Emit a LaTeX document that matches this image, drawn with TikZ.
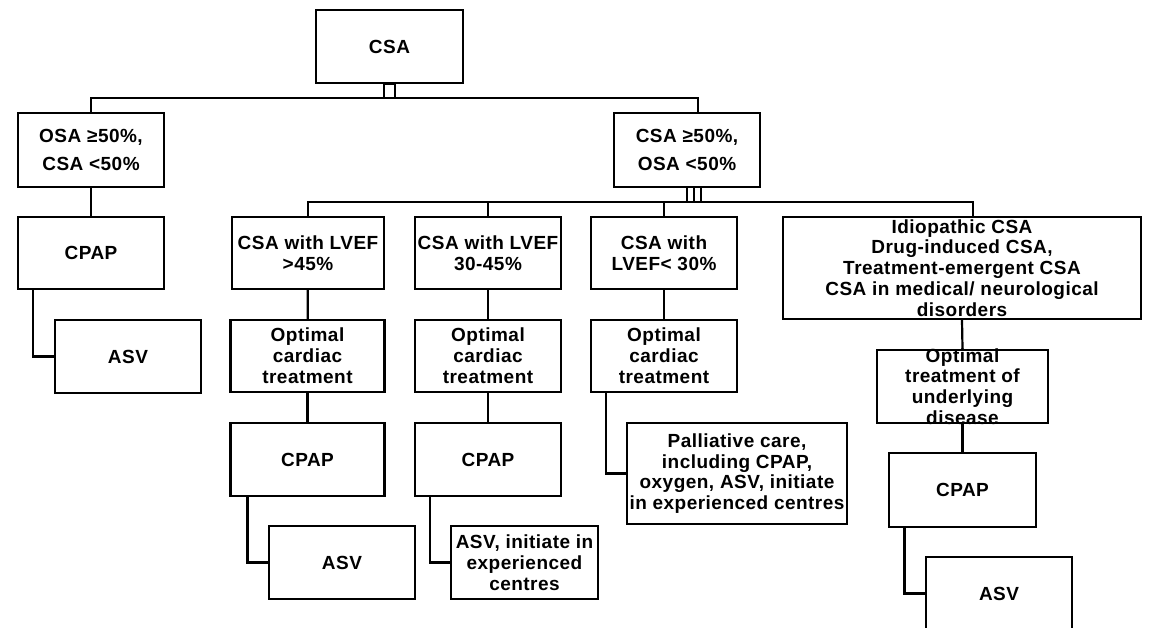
\documentclass[tikz,border=0pt]{standalone}
\usepackage{fontspec}
\setmainfont{Liberation Sans}[LetterSpace=2.5]
\usepackage{tikz}
\usetikzlibrary{positioning}

\begin{document}
\begin{tikzpicture}[x=1pt,y=-1pt,
  box/.style={draw=black,line width=2.2pt,fill=white,inner sep=0pt,align=center,
    font=\bfseries\fontsize{19}{20.8}\selectfont},
  link/.style={line width=2.2pt,black}]
\useasboundingbox (0,0) rectangle (1150,627);
% top level
\node[box,minimum width=147,minimum height=73] (csa) at (389.5,46.5) {CSA};
\node[box,minimum width=146,minimum height=74] (osa) at (91,150) {OSA ≥50\%,\\[7pt]CSA <50\%};
\node[box,minimum width=146,minimum height=74] (csahi) at (687,150) {CSA ≥50\%,\\[7pt]OSA <50\%};
% left branch
\node[box,minimum width=146,minimum height=72] (cpapa) at (91,253) {CPAP};
\node[box,minimum width=146,minimum height=73] (asva) at (128,356.5) {ASV};
% second level
\node[box,minimum width=152,minimum height=72] (lvefa) at (308,253) {CSA with LVEF\\>45\%};
\node[box,minimum width=146,minimum height=72] (lvefb) at (488,253) {CSA with LVEF\\30-45\%};
\node[box,minimum width=146,minimum height=72] (lvefc) at (664,253) {CSA with\\LVEF< 30\%};
\node[box,minimum width=358,minimum height=102] (idio) at (962,268) {Idiopathic CSA\\Drug-induced CSA,\\Treatment-emergent CSA\\CSA in medical/ neurological\\disorders};
% treatment
\node[box,minimum width=154,minimum height=72] (opta) at (307.5,356) {Optimal\\cardiac\\treatment};
\node[box,minimum width=146,minimum height=72] (optb) at (488,356) {Optimal\\cardiac\\treatment};
\node[box,minimum width=146,minimum height=72] (optc) at (664,356) {Optimal\\cardiac\\treatment};
\node[box,minimum width=171,minimum height=73] (optd) at (962.5,386.5) {\parbox[c][50pt][c]{171pt}{\centering Optimal\\treatment of\\underlying\\disease}};
% CPAP and ASV
\node[box,minimum width=154,minimum height=73] (cpapb) at (307.5,459.5) {CPAP};
\node[box,minimum width=146,minimum height=73] (cpapc) at (488,459.5) {CPAP};
\node[box,minimum width=147,minimum height=74] (cpapd) at (962.5,490) {CPAP};
\node[box,minimum width=146,minimum height=73] (asvb) at (342,562.5) {ASV};
\node[box,minimum width=147,minimum height=73] (asvc) at (524.5,562.5) {ASV, initiate in\\experienced\\centres};
\node[box,minimum width=146,minimum height=73] (asvd) at (999,593.5) {ASV};
\node[box,minimum width=220,minimum height=101] (pall) at (737,473.5) {Palliative care,\\including CPAP,\\oxygen, ASV, initiate\\in experienced centres};
% connectors
\coordinate (busa) at (0,98);
\coordinate (busb) at (0,202);
\draw[link] ([xshift=-5.5]csa.south) rectangle ([xshift=5.5]csa.south |- busa);
\draw[link] (osa.north) |- ([xshift=11]csahi.north |- busa) -- ([xshift=11]csahi.north);
\foreach \dx in {0,7,14}
  \draw[link] ([xshift=\dx]csahi.south) -- ([xshift=\dx]csahi.south |- busb);
\draw[link] (lvefa.north) |- ([xshift=11]idio.north |- busb) -- ([xshift=11]idio.north);
\draw[link] (lvefb.north) -- (lvefb.north |- busb);
\draw[link] (lvefc.north) -- (lvefc.north |- busb);
\draw[link] (osa) -- (cpapa);
\draw[link] (lvefa) -- (opta);
\draw[link] (lvefb) -- (optb);
\draw[link] (lvefc) -- (optc);
\draw[link] (opta) -- (cpapb);
\draw[link] (optb) -- (cpapc);
\draw[link] (idio.south) -- (optd.north);
\draw[link] (optd.south) -- (cpapd.north);
\draw[link] ([xshift=-58]cpapa.south) |- (asva.west);
\draw[link] ([xshift=-60]cpapb.south) |- (asvb.west);
\draw[link] ([xshift=-58]cpapc.south) |- (asvc.west);
\draw[link] ([xshift=-58]optc.south) |- (pall.west);
\draw[link] ([xshift=-58]cpapd.south) |- (asvd.west);
\end{tikzpicture}
\end{document}
